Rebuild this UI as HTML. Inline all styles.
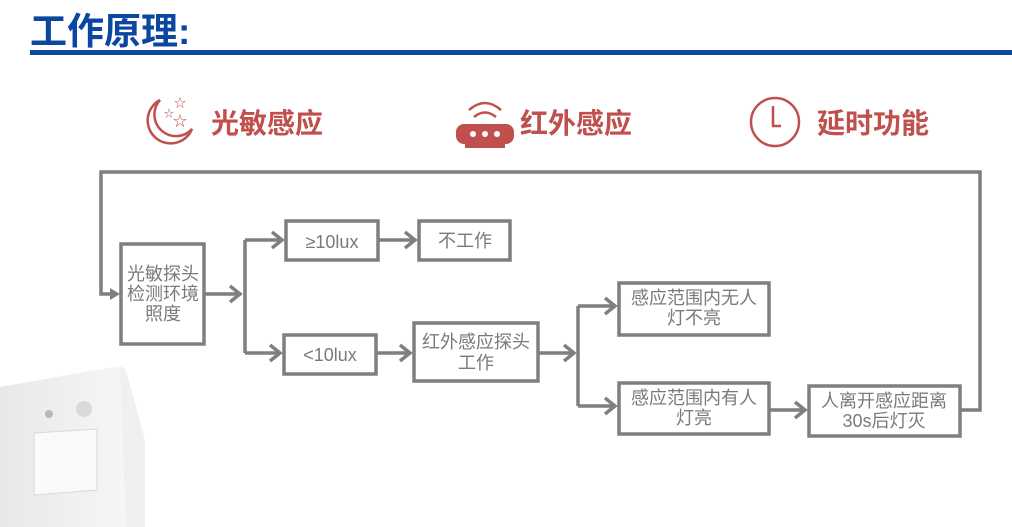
<!DOCTYPE html>
<html><head><meta charset="utf-8"><style>
html,body{margin:0;padding:0;background:#fff;width:1012px;height:527px;overflow:hidden}
svg{display:block}
text{font-family:"Liberation Sans","Noto Sans CJK SC",sans-serif}
</style></head><body>
<svg width="1012" height="527" viewBox="0 0 1012 527" xmlns="http://www.w3.org/2000/svg">
<text x="30" y="44" font-size="37" font-weight="bold" fill="#0b47a1">工作原理:</text>
<rect x="30" y="50" width="982" height="5" fill="#0b47a1"/>

<!-- icons -->
<g fill="none" stroke="#c0504d" stroke-width="2.5">
<path d="M160 100 A23 23 0 1 0 192 129 A20 20 0 0 1 160 100 Z"/>
<circle cx="775" cy="122" r="24"/>
<path d="M773 106 V126 H781"/>
<path d="M469 110 Q485 96 501 110"/>
<path d="M474 117 Q485 108 496 117"/>
</g>
<g fill="#c0504d">
<text x="174" y="107" font-size="12">☆</text><text x="164" y="117" font-size="10">☆</text><text x="173" y="126" font-size="14">☆</text>
<rect x="456" y="124" width="58" height="20" rx="8"/>
<rect x="465" y="140" width="40" height="8"/>
</g>
<g fill="#fff"><circle cx="473" cy="134" r="3"/><circle cx="485" cy="134" r="3"/><circle cx="497" cy="134" r="3"/></g>
<g font-size="28" font-weight="bold" fill="#c0504d">
<text x="211" y="133">光敏感应</text>
<text x="520" y="133">红外感应</text>
<text x="817" y="133">延时功能</text>
</g>

<!-- lamp -->
<defs><linearGradient id="g" x1="0" x2="1"><stop offset="0" stop-color="#e8e8ea"/><stop offset="1" stop-color="#f6f6f7"/></linearGradient></defs>
<polygon points="0,387 120,366 124,370 126,527 0,527" fill="url(#g)"/>
<polygon points="120,366 126,370 145,440 145,527 126,527" fill="#f0f0f0"/>
<circle cx="49" cy="414" r="4" fill="#b8b8ba"/>
<circle cx="84" cy="409" r="8" fill="#dadadc"/>
<polygon points="34,433 97,429 97,490 34,495" fill="#fafafa" stroke="#d8d8d8"/>

<!-- connectors -->
<g fill="none" stroke="#7f7f7f" stroke-width="3.5">
<path d="M960 410 H980 V172 H101 V294 H112"/>
<path d="M204 294 H241 M245 240 V353 M245 240 H282 M245 353 H280 M378 240 H415 M376 353 H410 M538 353 H574 M578 306 V406 M578 306 H615 M578 406 H615 M769 410 H805"/>
<path d="M230 286 L240 294 L230 302 M272 232 L282 240 L272 248 M270 345 L280 353 L270 361 M405 232 L415 240 L405 248 M400 345 L410 353 L400 361 M564 345 L574 353 L564 361 M605 298 L615 306 L605 314 M605 398 L615 406 L605 414 M795 402 L805 410 L795 418"/>
</g>
<polygon points="110,288 120,294 110,300" fill="#7f7f7f"/>

<g fill="#fff" stroke="#7f7f7f" stroke-width="3.5">
<rect x="121" y="244" width="83" height="100"/>
<rect x="286" y="221" width="92" height="39"/>
<rect x="419" y="221" width="91" height="39"/>
<rect x="284" y="335" width="92" height="39"/>
<rect x="414" y="323" width="124" height="58"/>
<rect x="619" y="283" width="150" height="52"/>
<rect x="619" y="383" width="150" height="51"/>
<rect x="809" y="386" width="151" height="50"/>
</g>
<g font-size="18" fill="#7a7a7a" text-anchor="middle">
<text x="163" y="280">光敏探头</text><text x="163" y="300">检测环境</text><text x="163" y="320">照度</text>
<text x="332" y="248">≥10lux</text>
<text x="465" y="247">不工作</text>
<text x="330" y="361">&lt;10lux</text>
<text x="476" y="348">红外感应探头</text><text x="476" y="369">工作</text>
<text x="694" y="304">感应范围内无人</text><text x="694" y="324">灯不亮</text>
<text x="694" y="404">感应范围内有人</text><text x="694" y="424">灯亮</text>
<text x="884" y="407">人离开感应距离</text><text x="884" y="427">30s后灯灭</text>
</g>
</svg>
</body></html>
